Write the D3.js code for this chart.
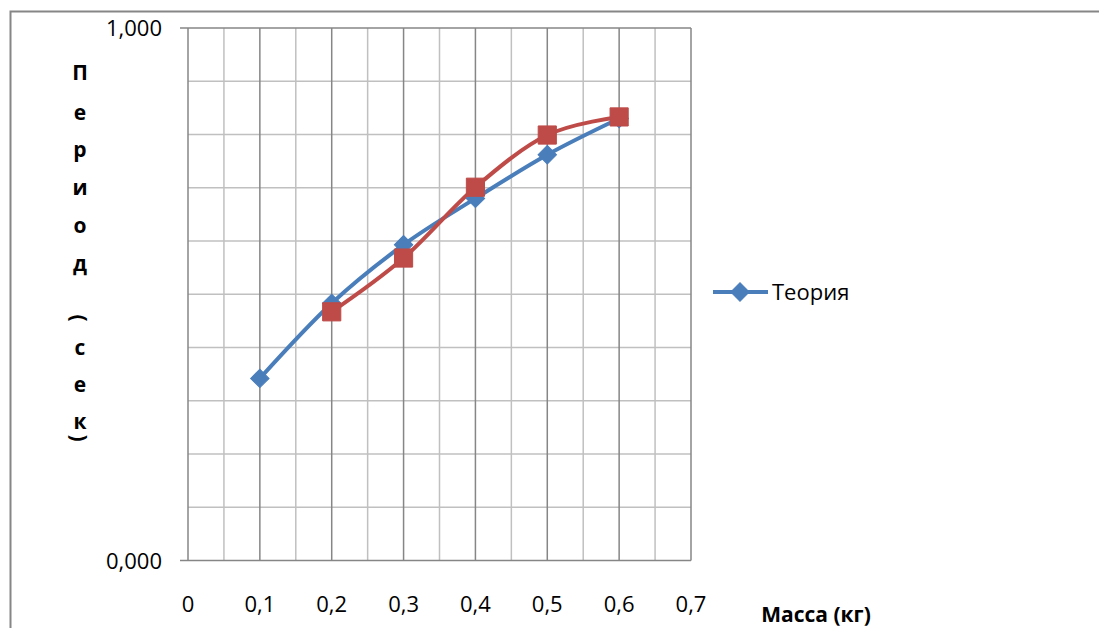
<!DOCTYPE html>
<html><head><meta charset="utf-8">
<script src="https://cdn.jsdelivr.net/npm/d3@7"></script>
<style>body{margin:0;background:#fff}svg{display:block}</style>
</head><body>
<svg id="c" width="1099" height="628"></svg>
<script>
const masses = [0.1, 0.2, 0.3, 0.4, 0.5, 0.6];
const theory = [0.342, 0.483, 0.593, 0.680, 0.762, 0.830];
const experimentMasses = [0.2, 0.3, 0.4, 0.5, 0.6];
const experiment = [0.467, 0.568, 0.701, 0.799, 0.833];
const xTicks = [0, 0.1, 0.2, 0.3, 0.4, 0.5, 0.6, 0.7];
const xTickLabels = ["0", "0,1", "0,2", "0,3", "0,4", "0,5", "0,6", "0,7"];
const yTickLabels = ["0,000", "1,000"];
const yTitleChars = ["П","е","р","и","о","д","(","с","е","к",")"];
const yTitleY = [72, 112, 149, 187, 225, 263, 318, 347, 384, 421, 438];
const seriesName = "Теория";
const xTitle = "Масса (кг)";

const svg = d3.select("#c");
const font = "'Open Sans', 'Noto Sans', sans-serif";
const x = d3.scaleLinear().domain([0, 0.7]).range([188, 691]);
const y = d3.scaleLinear().domain([0, 1]).range([560.5, 28]);

svg.append("rect").attr("x", 10.5).attr("y", 11.5).attr("width", 1200).attr("height", 700)
  .attr("fill", "none").attr("stroke", "#868686").attr("stroke-width", 2);

const g = svg.append("g");
const hg = d3.range(1, 10).map(i => i / 10);
g.selectAll(".hg").data(hg).join("line")
  .attr("x1", x(0)).attr("x2", x(0.7)).attr("y1", d => y(d)).attr("y2", d => y(d))
  .attr("stroke", "#c0c0c0").attr("stroke-width", 1.5);
const vMinor = d3.range(0, 7).map(i => i / 10 + 0.05);
g.selectAll(".vmin").data(vMinor).join("line")
  .attr("x1", d => x(d)).attr("x2", d => x(d)).attr("y1", y(0)).attr("y2", y(1))
  .attr("stroke", "#c0c0c0").attr("stroke-width", 1.5);
g.selectAll(".vmaj").data(xTicks.slice(1)).join("line")
  .attr("x1", d => x(d)).attr("x2", d => x(d)).attr("y1", y(0)).attr("y2", y(1))
  .attr("stroke", "#868686").attr("stroke-width", 1.5);
[0, 1].forEach(v => {
  g.append("line").attr("x1", 180).attr("x2", x(0.7)).attr("y1", y(v)).attr("y2", y(v))
    .attr("stroke", "#868686").attr("stroke-width", 1.5);
});
g.append("line").attr("x1", x(0)).attr("x2", x(0)).attr("y1", y(0)).attr("y2", y(1))
  .attr("stroke", "#868686").attr("stroke-width", 1.5);

[0, 1].forEach((v, i) => {
  svg.append("text").attr("x", 162).attr("y", y(v) + 8).attr("text-anchor", "end")
    .attr("font-family", font).attr("font-size", 22).attr("fill", "#000").text(yTickLabels[i]);
});
svg.selectAll(".xl").data(xTicks).join("text")
  .attr("x", d => x(d)).attr("y", 612).attr("text-anchor", "middle")
  .attr("font-family", font).attr("font-size", 22).attr("fill", "#000")
  .text((d, i) => xTickLabels[i]);

svg.append("text").attr("x", 816).attr("y", 622).attr("text-anchor", "middle")
  .attr("font-family", font).attr("font-size", 21).attr("font-weight", "bold").text(xTitle);

yTitleChars.forEach((ch, i) => {
  const t = svg.append("text").attr("text-anchor", "middle").attr("dominant-baseline", "central")
    .attr("font-family", font).attr("font-size", 21).attr("font-weight", "bold").text(ch);
  if (ch === "(" || ch === ")") t.attr("transform", `translate(80,${yTitleY[i]}) rotate(90)`);
  else t.attr("x", 80).attr("y", yTitleY[i]);
});

const line = d3.line().x(d => x(d[0])).y(d => y(d[1])).curve(d3.curveCatmullRom.alpha(0));
const tData = masses.map((m, i) => [m, theory[i]]);
const eData = experimentMasses.map((m, i) => [m, experiment[i]]);
const blue = "#4a7ebb", red = "#be4b48";

svg.append("path").attr("d", line(tData)).attr("fill", "none").attr("stroke", blue).attr("stroke-width", 4);
svg.append("path").attr("d", line(eData)).attr("fill", "none").attr("stroke", red).attr("stroke-width", 4);

svg.selectAll(".dm").data(tData).join("path")
  .attr("d", d3.symbol().type(d3.symbolSquare).size(170))
  .attr("transform", d => `translate(${x(d[0])},${y(d[1])}) rotate(45)`)
  .attr("fill", blue).attr("stroke", blue).attr("stroke-width", 1);
svg.selectAll(".sq").data(eData).join("path")
  .attr("d", d3.symbol().type(d3.symbolSquare).size(330))
  .attr("transform", d => `translate(${x(d[0])},${y(d[1])})`)
  .attr("fill", red).attr("stroke", red).attr("stroke-width", 1);

svg.append("line").attr("x1", 713).attr("x2", 768).attr("y1", 292).attr("y2", 292)
  .attr("stroke", blue).attr("stroke-width", 4);
svg.append("path").attr("d", d3.symbol().type(d3.symbolSquare).size(170))
  .attr("transform", "translate(740,292) rotate(45)").attr("fill", blue).attr("stroke", blue);
svg.append("text").attr("x", 772).attr("y", 300).attr("font-family", font).attr("font-size", 22)
  .attr("fill", "#000").text(seriesName);
</script>
</body></html>
